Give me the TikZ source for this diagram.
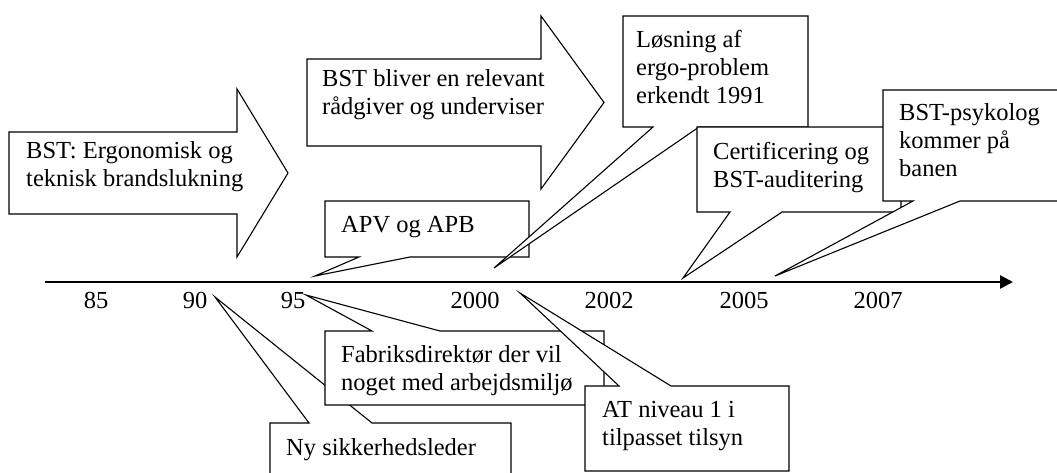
\documentclass[tikz,border=0pt]{standalone}
\usepackage{fontspec}
\setmainfont{Liberation Serif}
\usetikzlibrary{arrows.meta}
\newcommand{\bodyfont}{\fontsize{24.5}{28}\selectfont}
\tikzset{
  outline/.style={draw=black, line width=1.1pt, fill=white, line join=miter},
  % text blocks are placed by the baseline of their last line
  txt/.style={anchor=base west, inner sep=0pt, align=left, font=\bodyfont},
  yr/.style={anchor=base, inner sep=0pt, font=\bodyfont},
  axisline/.style={line width=2.6pt, -{Triangle[length=13pt,width=13pt]}}
}
\begin{document}
\begin{tikzpicture}[x=1pt, y=-1pt]
  \clip (0,0) rectangle (1057,473);
  \fill[white] (0,0) rectangle (1057,473);

  % time axis
  \coordinate (axL) at (45,282);
  \coordinate (axR) at (1013,282);
  \draw[axisline] (axL) -- (axR);
  \foreach \x/\lab in {96/85, 195/90, 293/95, 475/2000, 609/2002, 744/2005, 878/2007}
    \node[yr] (yr\lab) at (\x,308) {\lab};

  % block arrows above the axis
  \draw[outline] (9,132) -- (237,132) -- (237,89) -- (288,173) -- (237,257)
                 -- (237,214) -- (9,214) -- cycle;
  \node[txt] (ergo) at (26,186) {BST: Ergonomisk og\\teknisk brandslukning};

  \draw[outline] (307,59) -- (541,59) -- (541,16) -- (604,102.5) -- (541,189)
                 -- (541,146) -- (307,146) -- cycle;
  \node[txt] (raad) at (322,115) {BST bliver en relevant\\rådgiver og underviser};

  % callouts above the axis
  \coordinate (tApv) at (315,276);
  \draw[outline] (325,201) -- (529,201) -- (529,257) -- (410,257) -- (tApv)
                 -- (359,257) -- (325,257) -- cycle;
  \node[txt] (apv) at (341,233) {APV og APB};

  \coordinate (tLos) at (494,268);
  \draw[outline] (623,16) -- (808,16) -- (808,127) -- (699,127) -- (tLos)
                 -- (653,127) -- (623,127) -- cycle;
  \node[txt] (los) at (636,104) {Løsning af\\ergo-problem\\erkendt 1991};

  \coordinate (tCert) at (683,278);
  \draw[outline] (697,127) -- (901,127) -- (901,212) -- (782,212) -- (tCert)
                 -- (730,212) -- (697,212) -- cycle;
  \node[txt] (cert) at (713,188) {Certificering og\\BST-auditering};

  \coordinate (tPsy) at (775,276);
  \draw[outline] (883,90) -- (1070,90) -- (1070,201) -- (960,201) -- (tPsy)
                 -- (913,201) -- (883,201) -- cycle;
  \node[txt] (psy) at (899,177) {BST-psykolog\\kommer på\\banen};

  % callouts below the axis
  \coordinate (tNy) at (215,297);
  \draw[outline] (270,423) -- (309,423) -- (tNy) -- (372,423) -- (511,423)
                 -- (511,480) -- (270,480) -- cycle;
  \node[txt] (ny) at (286,455) {Ny sikkerhedsleder};

  \coordinate (tFab) at (306,295);
  \draw[outline] (325,331) -- (372,331) -- (tFab) -- (440,331) -- (604,331)
                 -- (604,405) -- (325,405) -- cycle;
  \node[txt] (fab) at (341,390) {Fabriksdirektør der vil\\noget med arbejdsmiljø};

  \coordinate (tAT) at (520,293);
  \draw[outline] (585,386) -- (619,386) -- (tAT) -- (671,386) -- (789,386)
                 -- (789,471) -- (585,471) -- cycle;
  \node[txt] (at) at (602,445) {AT niveau 1 i\\tilpasset tilsyn};
\end{tikzpicture}
\end{document}
